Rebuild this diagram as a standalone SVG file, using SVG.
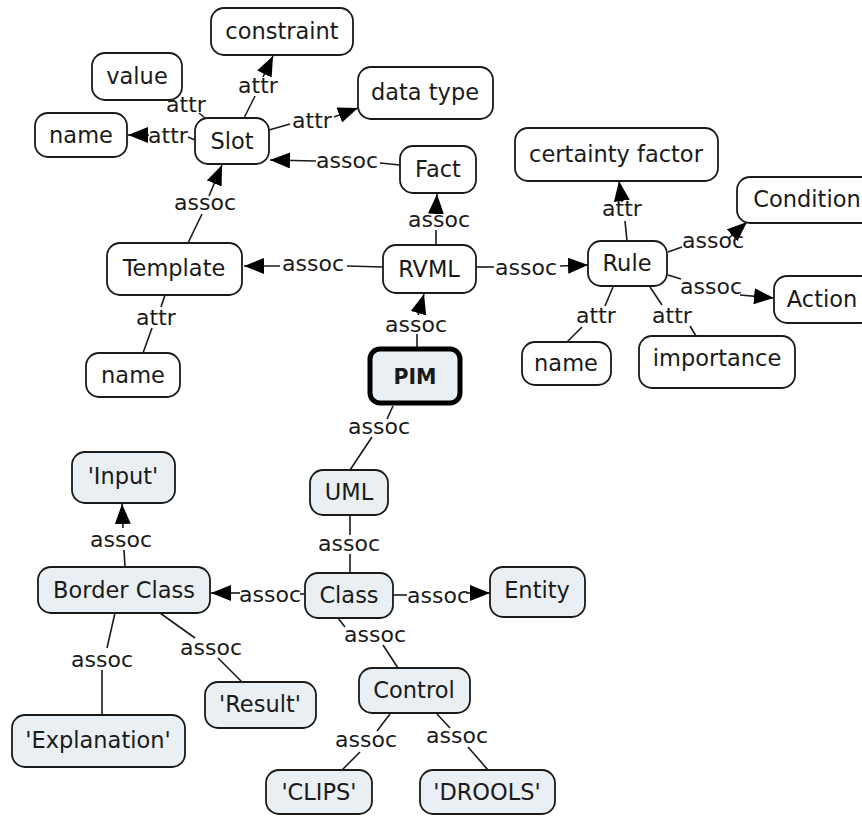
<svg xmlns="http://www.w3.org/2000/svg" width="862" height="816" viewBox="0 0 862 816">
<style>
.n rect{fill:#ffffff;stroke:#1a1a1a;stroke-width:1.8}
.b rect{fill:#e9eff3;stroke:#1a1a1a;stroke-width:1.8}
text{font-family:"DejaVu Sans","Verdana",sans-serif;font-size:22px;fill:#1a1a1a}
.n text,.b text{text-anchor:middle;font-size:22.5px}
.l{text-anchor:middle}
#edges line{stroke:#1a1a1a;stroke-width:1.6}
</style>
<defs>
<marker id="ah" viewBox="0 0 20 16" refX="20" refY="8" markerWidth="20" markerHeight="16" markerUnits="userSpaceOnUse" orient="auto">
<path d="M0,0 L20,8 L0,16 z" fill="#000"/>
</marker>
</defs>
<rect width="862" height="816" fill="#fff"/>
<g id="edges">
<line x1="244" y1="118" x2="255" y2="96"/>
<line x1="263" y1="77" x2="273" y2="56" marker-end="url(#ah)"/>
<text class="l" x="258" y="93">attr</text>
<line x1="205" y1="118" x2="199" y2="113"/>
<text class="l" x="186" y="112">attr</text>
<line x1="195" y1="140" x2="188" y2="137"/>
<line x1="149" y1="135" x2="128" y2="135" marker-end="url(#ah)"/>
<text class="l" x="168" y="143">attr</text>
<line x1="269" y1="130" x2="290" y2="124"/>
<line x1="334" y1="117" x2="358" y2="108" marker-end="url(#ah)"/>
<text class="l" x="312" y="128">attr</text>
<line x1="400" y1="165" x2="380" y2="163"/>
<line x1="316" y1="161" x2="270" y2="160" marker-end="url(#ah)"/>
<text class="l" x="347" y="168">assoc</text>
<line x1="436" y1="245" x2="436" y2="230"/>
<line x1="436" y1="213" x2="437" y2="194" marker-end="url(#ah)"/>
<text class="l" x="439" y="227">assoc</text>
<line x1="383" y1="267" x2="347" y2="266"/>
<line x1="280" y1="266" x2="244" y2="266" marker-end="url(#ah)"/>
<text class="l" x="313" y="271">assoc</text>
<line x1="188" y1="243" x2="202" y2="214"/>
<line x1="209" y1="196" x2="222" y2="165" marker-end="url(#ah)"/>
<text class="l" x="205" y="210">assoc</text>
<line x1="165" y1="295" x2="161" y2="307"/>
<line x1="152" y1="328" x2="143" y2="353"/>
<text class="l" x="156" y="325">attr</text>
<line x1="476" y1="267" x2="494" y2="267"/>
<line x1="560" y1="266" x2="588" y2="265" marker-end="url(#ah)"/>
<text class="l" x="526" y="275">assoc</text>
<line x1="627" y1="241" x2="625" y2="221"/>
<line x1="622" y1="202" x2="619" y2="181" marker-end="url(#ah)"/>
<text class="l" x="622" y="216">attr</text>
<line x1="668" y1="252" x2="682" y2="247"/>
<line x1="729" y1="238" x2="747" y2="222" marker-end="url(#ah)"/>
<text class="l" x="713" y="248">assoc</text>
<line x1="668" y1="275" x2="681" y2="279"/>
<line x1="740" y1="295" x2="774" y2="298" marker-end="url(#ah)"/>
<text class="l" x="711" y="294">assoc</text>
<line x1="613" y1="287" x2="605" y2="306"/>
<line x1="582" y1="327" x2="567" y2="342"/>
<text class="l" x="596" y="323">attr</text>
<line x1="650" y1="287" x2="662" y2="305"/>
<line x1="690" y1="326" x2="696" y2="336"/>
<text class="l" x="672" y="323">attr</text>
<line x1="417" y1="347" x2="417" y2="334"/>
<line x1="418" y1="315" x2="424" y2="294" marker-end="url(#ah)"/>
<text class="l" x="416" y="332">assoc</text>
<line x1="393" y1="406" x2="387" y2="419"/>
<line x1="372" y1="437" x2="350" y2="470"/>
<text class="l" x="379" y="434">assoc</text>
<line x1="350" y1="515" x2="350" y2="535"/>
<line x1="350" y1="554" x2="350" y2="573"/>
<text class="l" x="349" y="551">assoc</text>
<line x1="305" y1="594" x2="300" y2="594"/>
<line x1="240" y1="593" x2="211" y2="593" marker-end="url(#ah)"/>
<text class="l" x="270" y="602">assoc</text>
<line x1="393" y1="595" x2="407" y2="595"/>
<line x1="466" y1="593" x2="490" y2="593" marker-end="url(#ah)"/>
<text class="l" x="438" y="603">assoc</text>
<line x1="125" y1="567" x2="124" y2="550"/>
<line x1="123" y1="528" x2="122" y2="504" marker-end="url(#ah)"/>
<text class="l" x="121" y="547">assoc</text>
<line x1="115" y1="613" x2="107" y2="648"/>
<line x1="102" y1="670" x2="102" y2="715"/>
<text class="l" x="102" y="667">assoc</text>
<line x1="160" y1="613" x2="195" y2="638"/>
<line x1="218" y1="658" x2="242" y2="682"/>
<text class="l" x="211" y="655">assoc</text>
<line x1="338" y1="618" x2="345" y2="627"/>
<line x1="383" y1="645" x2="398" y2="668"/>
<text class="l" x="375" y="642">assoc</text>
<line x1="390" y1="714" x2="377" y2="731"/>
<line x1="360" y1="752" x2="342" y2="770"/>
<text class="l" x="366" y="747">assoc</text>
<line x1="437" y1="714" x2="450" y2="728"/>
<line x1="468" y1="747" x2="488" y2="770"/>
<text class="l" x="457" y="743">assoc</text>
</g>
<g id="constraint" class="n"><rect x="211" y="8" width="142" height="47" rx="13"/><text x="282" y="39">constraint</text></g>
<g id="value" class="n"><rect x="92" y="53" width="90" height="47" rx="13"/><text x="137" y="84">value</text></g>
<g id="name1" class="n"><rect x="35" y="113" width="92" height="44" rx="13"/><text x="81" y="143">name</text></g>
<g id="slot" class="n"><rect x="195" y="118" width="74" height="46" rx="13"/><text x="232" y="149">Slot</text></g>
<g id="datatype" class="n"><rect x="358" y="67" width="135" height="52" rx="13"/><text x="425" y="100">data type</text></g>
<g id="fact" class="n"><rect x="400" y="146" width="76" height="47" rx="13"/><text x="438" y="177">Fact</text></g>
<g id="certainty" class="n"><rect x="515" y="128" width="203" height="53" rx="13"/><text x="616" y="162">certainty factor</text></g>
<g id="condition" class="n"><rect x="737" y="177" width="140" height="46" rx="13"/><text x="807" y="207">Condition</text></g>
<g id="rule" class="n"><rect x="588" y="241" width="79" height="45" rx="13"/><text x="627" y="271">Rule</text></g>
<g id="action" class="n"><rect x="774" y="276" width="100" height="47" rx="13"/><text x="822" y="307">Action</text></g>
<g id="name3" class="n"><rect x="522" y="342" width="89" height="43" rx="13"/><text x="566" y="371">name</text></g>
<g id="importance" class="n"><rect x="639" y="336" width="156" height="52" rx="13"/><text x="717" y="366">importance</text></g>
<g id="template" class="n"><rect x="107" y="243" width="135" height="52" rx="13"/><text x="174" y="276">Template</text></g>
<g id="name2" class="n"><rect x="86" y="353" width="94" height="44" rx="13"/><text x="133" y="383">name</text></g>
<g id="rvml" class="n"><rect x="383" y="245" width="93" height="48" rx="13"/><text x="429" y="277">RVML</text></g>
<g id="pim"><rect x="370" y="349" width="90" height="54" rx="10" fill="#e9eff3" stroke="#000" stroke-width="5"/><text x="415" y="384" text-anchor="middle" font-weight="bold" style="font-size:20.5px">PIM</text></g>
<g id="uml" class="b"><rect x="310" y="470" width="78" height="45" rx="13"/><text x="349" y="500">UML</text></g>
<g id="class" class="b"><rect x="305" y="573" width="88" height="45" rx="13"/><text x="349" y="603">Class</text></g>
<g id="entity" class="b"><rect x="490" y="567" width="95" height="50" rx="13"/><text x="537" y="598">Entity</text></g>
<g id="input" class="b"><rect x="72" y="452" width="103" height="51" rx="13"/><text x="123" y="484">'Input'</text></g>
<g id="borderclass" class="b"><rect x="38" y="567" width="172" height="46" rx="13"/><text x="124" y="598">Border Class</text></g>
<g id="result" class="b"><rect x="205" y="682" width="111" height="46" rx="13"/><text x="260" y="712">'Result'</text></g>
<g id="explanation" class="b"><rect x="12" y="715" width="173" height="52" rx="13"/><text x="98" y="748">'Explanation'</text></g>
<g id="control" class="b"><rect x="359" y="668" width="111" height="45" rx="13"/><text x="414" y="698">Control</text></g>
<g id="clips" class="b"><rect x="266" y="770" width="106" height="44" rx="13"/><text x="319" y="800">'CLIPS'</text></g>
<g id="drools" class="b"><rect x="420" y="770" width="135" height="44" rx="13"/><text x="487" y="800">'DROOLS'</text></g>
</svg>
